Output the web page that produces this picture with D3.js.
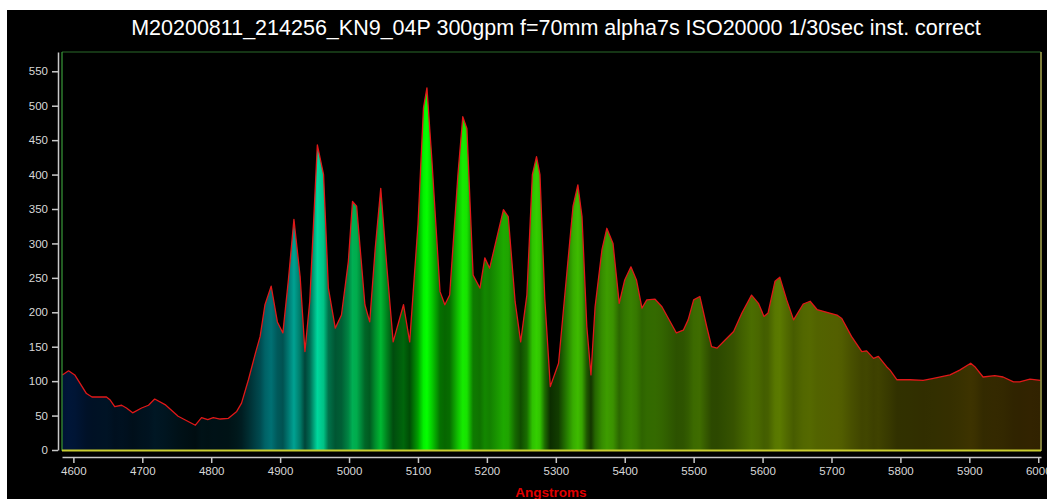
<!DOCTYPE html>
<html><head><meta charset="utf-8">
<script src="https://cdn.jsdelivr.net/npm/d3@7"></script>
<style>html,body{margin:0;padding:0;background:#000;}svg{display:block;}</style>
</head><body>
<svg id="chart" width="1047" height="499"></svg>
<script>
const titleText = "M20200811_214256_KN9_04P 300gpm f=70mm alpha7s ISO20000 1/30sec inst. correct";
const xLabel = "Angstroms";
const xTicks = [4600,4700,4800,4900,5000,5100,5200,5300,5400,5500,5600,5700,5800,5900,6000];
const yTicks = [0,50,100,150,200,250,300,350,400,450,500,550];
const wavelengths = [4584,4593,4602,4619,4627,4648,4653,4660,4670,4677,4686,4699,4709,4718,4733,4752,4777,4786,4795,4803,4813,4825,4837,4844,4854,4864,4871,4878,4887,4896,4904,4912,4920,4929,4936,4943,4954,4963,4970,4980,4989,4999,5005,5011,5023,5030,5038,5046,5055,5064,5079,5088,5100,5108,5113,5120,5132,5139,5146,5158,5165,5171,5180,5190,5197,5204,5224,5231,5241,5249,5258,5266,5272,5277,5284,5292,5304,5316,5325,5332,5338,5345,5351,5357,5367,5374,5383,5392,5400,5409,5417,5425,5432,5444,5454,5475,5485,5492,5500,5509,5519,5526,5534,5546,5558,5570,5584,5594,5602,5608,5618,5625,5635,5645,5659,5669,5679,5708,5715,5729,5744,5751,5761,5768,5780,5785,5795,5814,5833,5848,5872,5886,5902,5908,5920,5937,5949,5964,5973,5988,6003];
const intensity = [109,115,109,82,77,77,73,63,65,61,54,61,65,74,66,49,36,47,44,47,45,46,56,68,102,140,165,211,238,186,170,247,335,252,143,216,443,400,235,177,196,274,361,354,211,186,293,380,264,157,211,157,327,497,526,424,230,211,225,400,484,467,254,235,279,264,349,339,215,157,225,400,426,400,220,92,126,257,354,385,339,179,109,208,291,322,300,213,247,266,247,206,218,219,208,170,174,189,218,223,179,150,148,160,172,199,225,213,194,199,245,251,218,189,212,216,204,196,191,165,143,144,133,136,121,116,102,102,101,104,109,116,126,121,106,108,106,99,99,103,101];

const data = wavelengths.map((w,i)=>({w, v:intensity[i]}));
const svg = d3.select("#chart");
const W = 1047, H = 499;

// background
svg.append("rect").attr("width",W).attr("height",H).attr("fill","#fff");
svg.append("rect").attr("x",7).attr("y",10).attr("width",W-7).attr("height",H-10).attr("fill","#000");

const x = d3.scaleLinear().domain([4583.5, 6004]).range([62, 1041]);
const y = d3.scaleLinear().domain([0, 578]).range([450, 52]);

function specColor(wl, f){
  const l = wl/10; let r=0,g=0,b=0;
  if(l<440){r=-(l-440)/60;g=0;b=1;}
  else if(l<490){r=0;g=(l-440)/50;b=1;}
  else if(l<510){r=0;g=1;b=-(l-510)/20;}
  else if(l<580){r=(l-510)/70;g=1;b=0;}
  else if(l<645){r=1;g=-(l-645)/65;b=0;}
  else {r=1;g=0;b=0;}
  const c = v=>Math.round(255*Math.min(1,Math.max(0,v*f)));
  return `rgb(${c(r)},${c(g)},${c(b)})`;
}
const vmax = d3.max(intensity);
const defs = svg.append("defs");
const x1 = x(wavelengths[0]), x2 = x(wavelengths[wavelengths.length-1]);
const grad = defs.append("linearGradient").attr("id","spec")
  .attr("gradientUnits","userSpaceOnUse").attr("x1",x1).attr("x2",x2).attr("y1",0).attr("y2",0);
data.forEach(d=>{
  grad.append("stop").attr("offset",(x(d.w)-x1)/(x2-x1)).attr("stop-color",specColor(d.w, d.v/vmax));
});

// fill
svg.append("path").datum(data)
  .attr("d", d3.area().x(d=>x(d.w)).y0(y(0)).y1(d=>y(d.v)))
  .attr("fill","url(#spec)");
// line
svg.append("path").datum(data)
  .attr("d", d3.line().x(d=>x(d.w)).y(d=>y(d.v)))
  .attr("fill","none").attr("stroke","#e01818").attr("stroke-width",1.3).attr("stroke-linejoin","round");

// plot frame
svg.append("line").attr("x1",62).attr("x2",1041).attr("y1",52).attr("y2",52).attr("stroke","#2a6a2a").attr("stroke-width",1.2);
svg.append("line").attr("x1",62).attr("x2",62).attr("y1",52).attr("y2",451).attr("stroke","#3a9a3a").attr("stroke-width",1.2);
svg.append("line").attr("x1",1041).attr("x2",1041).attr("y1",52).attr("y2",451).attr("stroke","#a8a850").attr("stroke-width",1.5);
svg.append("line").attr("x1",62).attr("x2",1041).attr("y1",450.5).attr("y2",450.5).attr("stroke","#c8cc30").attr("stroke-width",2);

// axes
const axisColor = "#c8c8c8";
const gy = svg.append("g").attr("transform","translate(58,0)")
  .call(d3.axisLeft(y).tickValues(yTicks).tickSize(6).tickSizeOuter(0).tickPadding(4));
const gx = svg.append("g").attr("transform","translate(0,457)")
  .call(d3.axisBottom(x).tickValues(xTicks).tickFormat(d3.format("d")).tickSize(6).tickSizeOuter(0).tickPadding(4));
[gy,gx].forEach(g=>{
  g.select(".domain").attr("stroke",axisColor).attr("stroke-width",1.5);
  g.selectAll(".tick line").attr("stroke",axisColor).attr("stroke-width",1.5);
  g.selectAll(".tick text").attr("fill","#d8d8d8").attr("font-family","Liberation Sans, Arial, sans-serif").attr("font-size",11.5);
});

// title
svg.append("text").attr("x",556).attr("y",35).attr("text-anchor","middle")
  .attr("fill","#fff").attr("font-family","Liberation Sans, Arial, sans-serif").attr("font-size",21.5)
  .text(titleText);
// x label
svg.append("text").attr("x",551).attr("y",497).attr("text-anchor","middle")
  .attr("fill","#e00000").attr("font-weight","bold").attr("font-family","Liberation Sans, Arial, sans-serif").attr("font-size",13.5)
  .text(xLabel);
</script>
</body></html>
